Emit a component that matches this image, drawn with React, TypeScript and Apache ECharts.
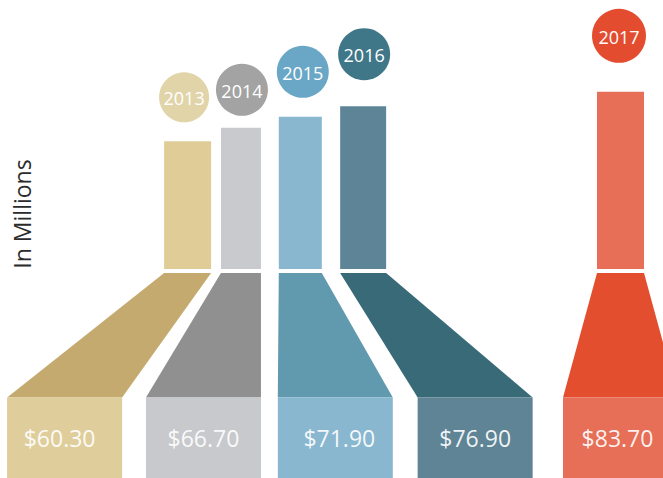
import React, { useEffect, useRef } from "react";
import * as echarts from "echarts";

// ---- data ----
const years = ["2013", "2014", "2015", "2016", "2017"];
const payroll = [60.3, 66.7, 71.9, 76.9, 83.7];
const axisTitle = "In Millions";

// ---- colours ----
const barColors = ["#dfcc97", "#c9cacd", "#88b7cf", "#5d8597", "#e76f57"];
const trapColors = ["#c4aa6e", "#909090", "#6199ae", "#386a78", "#e34e2f"];
const boxColors = ["#dfce9c", "#c8c9cc", "#89b7cf", "#5e8496", "#e76f57"];
const circleColors = ["#e1d4a8", "#a3a3a3", "#6aa7c6", "#3f7789", "#e34c2e"];

// ---- layout (pixels) ----
const boxShift = [1.5, 2, -4.5, -3, 4];
const barOffset = [123, 37.5, -35, -112, 0];
const barWidths = [47, 40, 43, 46, 47];
const circleLift = [44, 38, 45, 52, 56];
const circleShift = [-3.5, 1, 2.5, 1, -1.5];
const circleRadius = [25, 26, 26, 26, 27];
const valueShift = [-5, 0, 4, 0, -3];
const BOX_W = 115;
const GAP = 4;
const TRAP_BOTTOM = 397.5;
const VALUE_Y = 438;
const FONT = "'Open Sans', 'DejaVu Sans', sans-serif";

export default function App() {
  const ref = useRef<HTMLDivElement>(null);

  useEffect(() => {
    if (!ref.current) return;
    const chart = echarts.init(ref.current, undefined, { renderer: "svg" });

    const renderItem = (params: any, api: any) => {
      const i = params.dataIndex;
      const v = api.value(1) as number;
      const base = api.coord([api.value(0), 0]);
      const top = api.coord([api.value(0), v]);
      const boxC = base[0] + boxShift[i];
      const barC = boxC + barOffset[i];
      const bw = barWidths[i];
      const barBottom = base[1];
      const trapTop = barBottom + GAP;
      const cx = barC + circleShift[i];
      const cy = top[1] - circleLift[i];
      return {
        type: "group",
        children: [
          {
            type: "rect",
            shape: { x: barC - bw / 2, y: top[1], width: bw, height: barBottom - top[1] },
            style: { fill: barColors[i] },
          },
          {
            type: "polygon",
            shape: {
              points: [
                [barC - bw / 2, trapTop],
                [barC + bw / 2, trapTop],
                [boxC + BOX_W / 2, TRAP_BOTTOM],
                [boxC - BOX_W / 2, TRAP_BOTTOM],
              ],
            },
            style: { fill: trapColors[i] },
          },
          {
            type: "rect",
            shape: { x: boxC - BOX_W / 2, y: TRAP_BOTTOM, width: BOX_W, height: 100 },
            style: { fill: boxColors[i] },
          },
          {
            type: "text",
            style: {
              text: "$" + v.toFixed(2),
              x: boxC + valueShift[i],
              y: VALUE_Y,
              fill: "rgba(255,255,255,0.92)",
              fontSize: 23,
              fontFamily: FONT,
              align: "center",
              verticalAlign: "middle",
            },
          },
          {
            type: "circle",
            shape: { cx, cy, r: circleRadius[i] },
            style: { fill: circleColors[i] },
          },
          {
            type: "text",
            style: {
              text: years[i],
              x: cx,
              y: cy + 1,
              fill: "#ffffff",
              fontSize: 18,
              fontFamily: FONT,
              align: "center",
              verticalAlign: "middle",
            },
          },
        ],
      };
    };

    chart.setOption({
      animation: false,
      backgroundColor: "#ffffff",
      grid: { left: 0, right: 0, top: 57.3, bottom: 209, containLabel: false },
      xAxis: { type: "value", min: -0.4561, max: 4.3361, show: false },
      yAxis: { type: "value", min: 0, max: 100, show: false },
      graphic: [
        {
          type: "text",
          x: 22,
          y: 214,
          rotation: Math.PI / 2,
          style: {
            text: axisTitle,
            fill: "#2b2b2b",
            fontSize: 23,
            fontFamily: FONT,
            align: "center",
            verticalAlign: "middle",
          },
        },
      ],
      series: [
        {
          type: "custom",
          renderItem,
          data: payroll.map((v, i) => [i, v]),
          encode: { x: 0, y: 1 },
          clip: false,
        },
      ],
    });

    return () => chart.dispose();
  }, []);

  return (
    <div
      ref={ref}
      style={{ position: "fixed", left: 0, top: 0, width: 663, height: 478 }}
    />
  );
}
